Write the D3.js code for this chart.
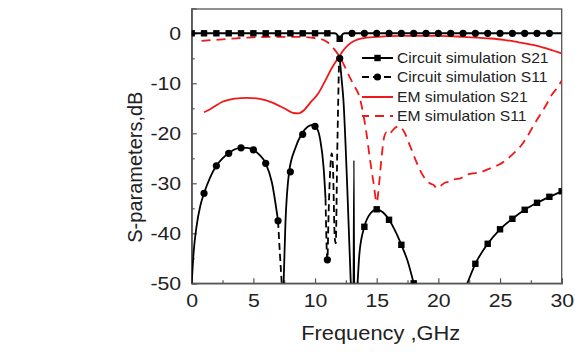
<!DOCTYPE html>
<html><head><meta charset="utf-8">
<script src="https://cdn.jsdelivr.net/npm/d3@7"></script>
<style>
body{margin:0;background:#fff;}
svg{display:block;font-family:"Liberation Sans",Arial,sans-serif;}
</style>
</head><body>
<svg id="c" width="575" height="352"></svg>
<script>
// ---- data ----
const freqTicks = [0, 5, 10, 15, 20, 25, 30];
const freqMinor = [2.5, 7.5, 12.5, 17.5, 22.5, 27.5];
const dbTicks = [0, -10, -20, -30, -40, -50];
const dbMinor = [-5, -15, -25, -35, -45];

const legendLabels = ["Circuit simulation S21", "Circuit simulation S11", "EM simulation S21", "EM simulation S11"];

// Circuit simulation S21 (top line)
const circS21 = [[0,0],[11.6,0],[11.8,-0.3],[12.0,-1.2],[12.2,-0.3],[12.4,0],[30,0]];
const circS21Squares = [[0,0],[1,0],[2,0],[3,0],[4,0],[5,0],[6,0],[7,0],[8,0],[9,0],[10,0],[11,0],[12,-1.1]];
const circS21Circles = [[13,0],[14,0],[15,0],[16,0],[17,0],[18,0],[19,0],[20,0],[21,0],[22,0],[23,0],[24,0],[25,0],[26,0],[27,0],[28,0],[29,0]];

// Circuit simulation S11 (lower curve), solid pieces
const circS11SolidA = [[0,-50],[0.15,-44],[0.4,-38.5],[0.7,-34.5],[1,-32],[1.5,-28.8],[2,-26.5],[2.5,-25],[3,-24],[3.5,-23.2],[4,-22.9],[4.5,-22.9],[5,-23.3],[5.5,-24.3],[6,-26],[6.5,-29.8],[7,-37.5]];
const circS11SolidB = [[7.45,-50],[7.6,-38],[7.9,-27.7],[8.4,-23],[8.9,-20.2],[9.4,-18.7],[9.8,-18.3],[10.1,-18.8],[10.4,-21],[10.7,-27],[10.85,-33]];
const circS11SolidC = [[12.0,-5],[12.15,-9],[12.3,-13.3],[12.6,-30],[12.9,-50]];
const circS11Spike = [[13.1,-50],[13.15,-25.5],[13.2,-50]];
const circS11SolidD = [[13.45,-50],[13.6,-44],[14,-38.7],[14.5,-36],[15,-35.2],[15.5,-35.8],[16,-37.3],[16.5,-39.5],[17,-42.3],[17.5,-45.5],[18,-50]];
const circS11SolidE = [[22.35,-50],[23,-46.1],[24,-42.1],[25,-39.2],[26,-37.1],[27,-35.3],[28,-33.9],[29,-32.7],[30,-31.6]];
// dashed pieces
const circS11DashA = [[7,-37.5],[7.15,-44],[7.3,-50]];
const circS11DashB = [[10.85,-33],[11.0,-45.3],[11.1,-36],[11.25,-26.5],[11.35,-24],[11.45,-26.5],[11.6,-41],[11.68,-42],[11.8,-24],[11.95,-5]];
const circS11Circles = [[1,-32],[2,-26.5],[3,-24],[4,-22.9],[5,-23.3],[6,-26],[7,-37.5],[8,-27.7],[9,-20.2],[10,-18.6],[11,-45.3],[12,-5]];
const circS11Squares = [[14,-38.7],[15,-35.2],[16,-37.3],[17,-42.3],[18,-50],[23,-46.1],[24,-42.1],[25,-39.2],[26,-37.1],[27,-35.3],[28,-33.9],[29,-32.7],[30,-31.6]];

// EM simulation S21
const emS21 = [[1,-15.8],[1.5,-15.2],[2,-14.4],[2.5,-13.7],[3,-13.3],[3.5,-13.05],[4.5,-12.9],[5.5,-13.1],[6.5,-13.8],[7.5,-15],[8.2,-15.9],[8.65,-16],[9.1,-15.4],[9.6,-13.9],[10.27,-12],[10.8,-9.6],[11.35,-7],[11.95,-4.7],[12.3,-3.4],[12.7,-2.3],[13.2,-1.5],[13.8,-1.0],[15,-0.7],[17,-0.5],[20,-0.5],[22,-0.7],[24,-1.0],[25.3,-1.3],[26.5,-1.8],[28,-2.5],[29,-3.2],[30,-4.0]];

// EM simulation S11
const emS11 = [[0.8,-1.5],[2,-1.3],[3.6,-1.0],[5,-0.8],[6.6,-0.7],[8.8,-0.7],[9.8,-0.9],[10.4,-1.1],[10.95,-1.7],[11.5,-3.0],[12.0,-4.7],[12.4,-6.6],[12.8,-8.7],[13.2,-10.6],[13.6,-12.7],[13.9,-16],[14.2,-20.5],[14.46,-25.3],[14.75,-30],[15.0,-33.8],[15.2,-30],[15.4,-24.7],[15.6,-20.8],[15.8,-19.8],[16.0,-20.3],[16.2,-19.7],[16.5,-18.9],[16.8,-18.6],[17.2,-19.6],[17.7,-22.5],[18.1,-25],[18.5,-27.3],[18.9,-29.0],[19.3,-30.0],[19.6,-30.3],[19.9,-31],[20.2,-30.5],[20.6,-29.8],[20.9,-29.7],[21.3,-29.2],[21.8,-29],[22.3,-28.3],[22.8,-28],[23.3,-27.9],[23.9,-27.3],[24.4,-26.8],[24.9,-26.3],[25.5,-25.3],[26.1,-24],[26.7,-22.5],[27.2,-20.7],[27.7,-18.5],[28.2,-16.5],[28.7,-14.5],[29.2,-12.3],[29.6,-11],[30,-9.5]];

// ---- drawing ----
const svg = d3.select("#c");
const L = 191.7, R = 561.7, T = 9, B = 283.3;
const SX = 1.12;
const x = d3.scaleLinear().domain([0, 30]).range([L, R]);
const y = d3.scaleLinear().domain([-50, 5]).range([B, B - 55 * 5]);
const axisCol = "#555", textCol = "#222";

svg.append("defs").append("clipPath").attr("id", "clip")
  .append("rect").attr("x", L).attr("y", T).attr("width", R - L).attr("height", B - T);

// frame
svg.append("rect").attr("x", L).attr("y", T).attr("width", R - L).attr("height", B - T)
  .attr("fill", "none").attr("stroke", axisCol).attr("stroke-width", 1.3);

// axes
const gx = svg.append("g").attr("transform", `translate(0,${B})`)
  .call(d3.axisBottom(x).tickValues(freqTicks).tickFormat(d3.format("d")).tickSize(-5).tickPadding(10));
svg.append("g").attr("transform", `translate(0,${B})`)
  .call(d3.axisBottom(x).tickValues(freqMinor).tickFormat("").tickSize(-3))
  .call(g => g.select(".domain").remove());
const gy = svg.append("g").attr("transform", `translate(${L},0)`)
  .call(d3.axisLeft(y).tickValues(dbTicks).tickFormat(d => String(d)).tickSize(-5).tickPadding(10));
svg.append("g").attr("transform", `translate(${L},0)`)
  .call(d3.axisLeft(y).tickValues(dbMinor).tickFormat("").tickSize(-3))
  .call(g => g.select(".domain").remove());

svg.selectAll(".domain").attr("stroke", axisCol).attr("stroke-width", 1.3);
svg.selectAll(".tick line").attr("stroke", axisCol).attr("stroke-width", 1.2);
gx.selectAll(".tick text").attr("font-size", 19).attr("fill", textCol)
  .attr("font-family", "Liberation Sans, Arial, sans-serif")
  .attr("transform", `scale(${SX},1)`);
gy.selectAll(".tick text").attr("font-size", 19).attr("fill", textCol)
  .attr("font-family", "Liberation Sans, Arial, sans-serif")
  .attr("x", 0).attr("transform", `translate(-10.5,0) scale(${SX},1)`);

// axis titles
svg.append("text").attr("transform", `translate(${(L + R) / 2 + 4},340) scale(${SX},1)`)
  .attr("text-anchor", "middle").attr("font-size", 19.5).attr("fill", textCol).text("Frequency ,GHz");
svg.append("g").attr("transform", `translate(142,${(T + B) / 2 + 21}) rotate(-90)`)
  .append("text").attr("text-anchor", "middle").attr("font-size", 20).attr("fill", textCol)
  .text("S-parameters,dB");

// curves
const line = d3.line().x(d => x(d[0])).y(d => y(d[1])).curve(d3.curveMonotoneX);
const plot = svg.append("g").attr("clip-path", "url(#clip)");
const red = "#f01818";
function path(data, color, w, dash) {
  const p = plot.append("path").datum(data).attr("d", line).attr("fill", "none")
    .attr("stroke", color).attr("stroke-width", w).attr("stroke-linejoin", "round");
  if (dash) p.attr("stroke-dasharray", dash);
  return p;
}
path(emS21, red, 1.8);
path(emS11, red, 1.8, "9,6");

[circS11SolidA, circS11SolidB, circS11SolidC, circS11SolidD, circS11SolidE].forEach(d => path(d, "#000", 1.8));
path(circS11Spike, "#000", 1.2);
[circS11DashA, circS11DashB].forEach(d => path(d, "#000", 1.8, "7,4"));
path(circS21, "#000", 2);

function squares(data) {
  plot.selectAll(null).data(data).enter().append("rect")
    .attr("x", d => x(d[0]) - 3.2).attr("y", d => y(d[1]) - 3.2)
    .attr("width", 6.4).attr("height", 6.4).attr("fill", "#000");
}
function circles(data) {
  plot.selectAll(null).data(data).enter().append("circle")
    .attr("cx", d => x(d[0])).attr("cy", d => y(d[1])).attr("r", 3.6).attr("fill", "#000");
}
squares(circS21Squares);
circles(circS21Circles);
circles(circS11Circles);
squares(circS11Squares);

// legend
const legY = [58, 77, 97, 116];
const legStyle = [
  {c: "#000", dash: null, m: "sq"},
  {c: "#000", dash: "7,4", m: "ci"},
  {c: red, dash: null, m: null},
  {c: red, dash: "9,6", m: null}
];
const lg = svg.append("g");
legendLabels.forEach((lab, i) => {
  const s = legStyle[i];
  const ln = lg.append("line").attr("x1", 362).attr("x2", 393).attr("y1", legY[i]).attr("y2", legY[i])
    .attr("stroke", s.c).attr("stroke-width", 2);
  if (s.dash) ln.attr("stroke-dasharray", s.dash).attr("stroke-dashoffset", i === 3 ? 2 : 0);
  if (s.m === "sq") lg.append("rect").attr("x", 374.3).attr("y", legY[i] - 3.2).attr("width", 6.4).attr("height", 6.4).attr("fill", "#000");
  if (s.m === "ci") lg.append("circle").attr("cx", 377.5).attr("cy", legY[i]).attr("r", 3.6).attr("fill", "#000");
  lg.append("text").attr("transform", `translate(397,${legY[i]}) scale(${SX},1)`).attr("dy", "0.36em")
    .attr("font-size", 14).attr("fill", textCol).text(lab);
});
</script>
</body></html>
